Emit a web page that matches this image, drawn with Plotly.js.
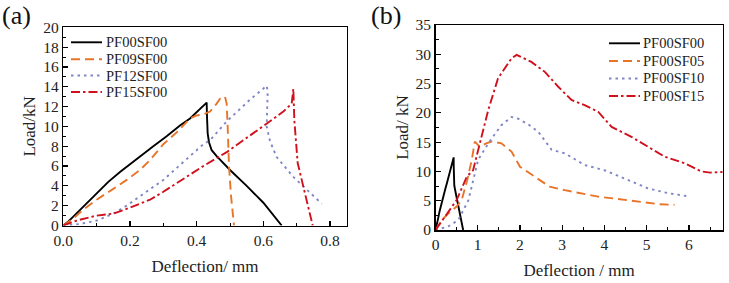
<!DOCTYPE html>
<html><head><meta charset="utf-8">
<script src="https://cdn.plot.ly/plotly-3.0.1.min.js"></script>
<style>html,body{margin:0;padding:0;background:#fff}#g{width:729px;height:283px}</style>
</head><body><div id="g"></div>
<script>
// ---- Panel (a) data ----
const a_PF00SF00_x = [0,0.015,0.03,0.045,0.06,0.1,0.135,0.17,0.2,0.235,0.27,0.31,0.35,0.38,0.4,0.415,0.43,0.431,0.433,0.437,0.445,0.46,0.48,0.5,0.55,0.6,0.655];
const a_PF00SF00_y = [0,0.4,0.9,1.4,1.9,3.3,4.4,5.4,6.2,7.1,8.0,9.0,10.1,10.8,11.4,11.9,12.4,11.0,9.3,8.4,7.6,7.0,6.3,5.6,4.0,2.3,0];
const a_PF09SF00_x = [0,0.03,0.06,0.1,0.15,0.19,0.23,0.26,0.3,0.34,0.38,0.4,0.42,0.44,0.46,0.47,0.485,0.49,0.493,0.497,0.503,0.512];
const a_PF09SF00_y = [0,0.7,1.6,2.6,3.7,4.6,5.6,6.6,8.2,9.4,10.8,11.1,11.2,11.5,12.3,12.8,13.0,12.3,10.0,6.0,3.0,0];
const a_PF12SF00_x = [0,0.05,0.1,0.15,0.19,0.26,0.3,0.36,0.42,0.44,0.49,0.56,0.6,0.61,0.613,0.61,0.62,0.64,0.69,0.73,0.775];
const a_PF12SF00_y = [0,0.15,0.5,1.2,2.0,3.6,4.6,6.4,8.2,8.6,10.5,12.7,13.9,14.1,13.5,10.0,8.5,6.9,4.9,3.6,2.2];
const a_PF15SF00_x = [0,0.04,0.1,0.15,0.2,0.26,0.3,0.37,0.42,0.49,0.55,0.59,0.66,0.685,0.69,0.693,0.703,0.728,0.748];
const a_PF15SF00_y = [0,0.5,1.0,1.2,1.8,2.6,3.4,4.9,6.0,7.4,8.8,9.8,11.5,12.3,13.8,10.6,6.3,2.9,0];

// ---- Panel (b) data ----
const b_PF00SF00_x = a_PF00SF00_x;
const b_PF00SF00_y = a_PF00SF00_y;
const b_PF00SF05_x = [0,0.15,0.3,0.5,0.62,0.75,0.86,0.93,1.05,1.2,1.33,1.56,1.8,2.0,2.35,2.7,3.06,3.5,3.85,4.2,4.56,5.03,5.3,5.66];
const b_PF00SF05_y = [0,1.7,2.8,4.0,5.1,8.5,12.0,15.1,14.2,14.8,15.1,14.8,13.4,10.8,9.1,7.4,6.8,6.2,5.7,5.4,5.1,4.6,4.4,4.3];
const b_PF00SF10_x = [0,0.3,0.54,0.78,1.01,1.25,1.56,1.8,1.96,2.2,2.43,2.75,3.06,3.53,4.0,4.56,5.03,5.5,6.02];
const b_PF00SF10_y = [0,0.6,1.7,5.1,12.0,14.8,17.9,19.3,19.0,18.0,16.8,13.7,13.1,11.1,10.2,8.5,7.1,6.3,5.7];
const b_PF00SF15_x = [0,0.22,0.5,0.74,0.89,1.05,1.25,1.48,1.8,1.92,2.27,2.59,2.9,3.22,3.53,3.85,4.17,4.64,5.03,5.43,5.9,6.29,6.5,6.8];
const b_PF00SF15_y = [0,2.3,5.1,9.1,10.2,14.8,20.5,25.9,29.3,29.9,28.7,27.0,24.5,22.2,21.3,20.2,17.6,15.9,14.2,12.5,11.4,10.0,9.8,9.9];

const namesA = ['PF00SF00','PF09SF00','PF12SF00','PF15SF00'];
const namesB = ['PF00SF00','PF00SF05','PF00SF10','PF00SF15'];
const colors = ['#000000','#E8742A','#7F86C6','#D0101C'];
const dashes = ['solid','9px,5px','2.5px,4px','9px,3px,2.5px,3px'];

const ax = [a_PF00SF00_x,a_PF09SF00_x,a_PF12SF00_x,a_PF15SF00_x];
const ay = [a_PF00SF00_y,a_PF09SF00_y,a_PF12SF00_y,a_PF15SF00_y];
const bx = [b_PF00SF00_x,b_PF00SF05_x,b_PF00SF10_x,b_PF00SF15_x];
const by = [b_PF00SF00_y,b_PF00SF05_y,b_PF00SF10_y,b_PF00SF15_y];

const traces = [];
for (let i=0;i<4;i++){
  traces.push({x:ax[i],y:ay[i],name:namesA[i],type:'scatter',mode:'lines',xaxis:'x',yaxis:'y',showlegend:false,
    line:{color:colors[i],dash:dashes[i],width:1.9}});
}
for (let i=0;i<4;i++){
  traces.push({x:bx[i],y:by[i],name:namesB[i],type:'scatter',mode:'lines',xaxis:'x2',yaxis:'y2',showlegend:false,
    line:{color:colors[i],dash:dashes[i],width:1.9}});
}

const W=729,H=283;
const F='"Liberation Serif", "Times New Roman", Times, serif';
function axisBase(extra){
  return Object.assign({showline:true,linecolor:'#000',linewidth:1.5,mirror:true,ticks:'inside',ticklen:5,
    tickwidth:1.2,tickcolor:'#000',showgrid:false,zeroline:false,tickfont:{family:F,size:15.5,color:'#222'}},extra);
}
const tf = {family:F,size:17,color:'#222'};

// hand-built legends (paper coordinates)
const shapes = [], annotations = [];
function addLegend(names, x0, x1, xt, rows){
  for (let i=0;i<names.length;i++){
    const yy = 1-rows[i]/H;
    shapes.push({type:'line',xref:'paper',yref:'paper',x0:x0/W,x1:x1/W,y0:yy,y1:yy,
      line:{color:colors[i],dash:dashes[i],width:1.9}});
    annotations.push({text:names[i],x:xt/W,y:yy,xref:'paper',yref:'paper',xanchor:'left',yanchor:'middle',
      showarrow:false,font:{family:F,size:14.5,color:'#222'}});
  }
}
addLegend(namesA, 71, 102, 104, [42.3,59.3,75.5,92]);
addLegend(namesB, 609, 640, 641, [43.3,61,78.5,96]);
annotations.push({text:'(a)',x:0/W,y:1-16/H,xref:'paper',yref:'paper',xanchor:'left',yanchor:'middle',showarrow:false,font:{family:F,size:26,color:'#111'}});
annotations.push({text:'(b)',x:369/W,y:1-16/H,xref:'paper',yref:'paper',xanchor:'left',yanchor:'middle',showarrow:false,font:{family:F,size:26,color:'#111'}});

const layout = {
  width:W,height:H,margin:{l:0,r:0,t:0,b:0},paper_bgcolor:'#fff',plot_bgcolor:'#fff',
  font:{family:F,color:'#222'},showlegend:false,
  xaxis: axisBase({domain:[63.3/W,346.7/W],range:[0,0.85],dtick:0.2,tick0:0,tickformat:'.1f',
    minor:{dtick:0.1,ticks:'inside',ticklen:3,tickwidth:1,tickcolor:'#000'},title:{text:'Deflection/ mm',standoff:12,font:tf}}),
  yaxis: axisBase({domain:[1-225.5/H,1-27.3/H],range:[0,20],dtick:2,
    minor:{dtick:1,ticks:'inside',ticklen:3,tickwidth:1,tickcolor:'#000'},title:{text:'Load/kN',standoff:3,font:tf}}),
  xaxis2: axisBase({anchor:'y2',domain:[435.5/W,722.7/W],range:[0,6.8],dtick:1,tick0:0,
    minor:{dtick:0.5,ticks:'inside',ticklen:3,tickwidth:1,tickcolor:'#000'},title:{text:'Deflection / mm',standoff:12,font:tf}}),
  yaxis2: axisBase({anchor:'x2',domain:[1-230/H,1-25/H],range:[0,35],dtick:5,
    minor:{dtick:2.5,ticks:'inside',ticklen:3,tickwidth:1,tickcolor:'#000'},title:{text:'Load/ kN',standoff:2,font:tf}}),
  shapes:shapes, annotations:annotations
};
Plotly.newPlot('g',traces,layout,{staticPlot:true,displayModeBar:false});
</script></body></html>
